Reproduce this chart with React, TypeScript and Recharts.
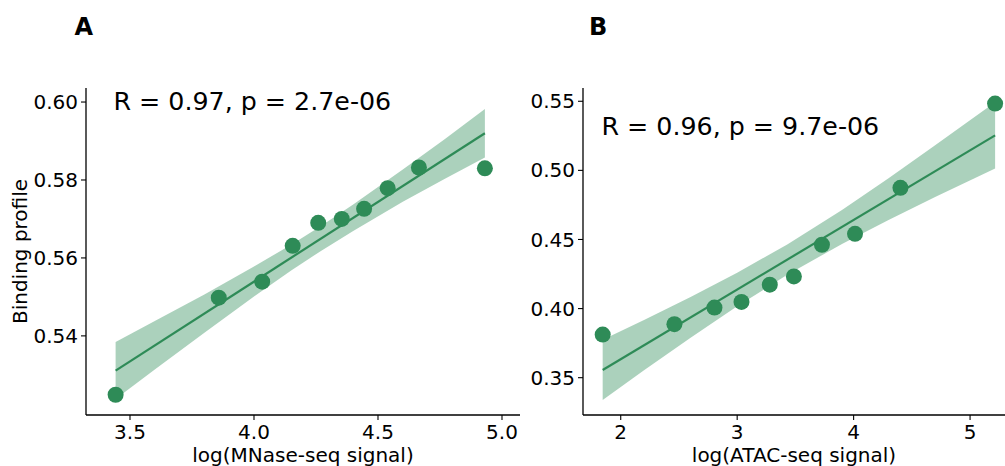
import React from 'react';
import { ComposedChart, Area, Line, Scatter, XAxis, YAxis } from 'recharts';

const GREEN = '#2E8B57';
const FONT = '"DejaVu Sans", sans-serif';

// Panel A: MNase-seq
const MNASE_POINTS = [
  { x: 3.442, y: 0.5249 },
  { x: 3.858, y: 0.5498 },
  { x: 4.033, y: 0.5539 },
  { x: 4.156, y: 0.5631 },
  { x: 4.259, y: 0.569 },
  { x: 4.354, y: 0.57 },
  { x: 4.444, y: 0.5726 },
  { x: 4.539, y: 0.5779 },
  { x: 4.665, y: 0.5832 },
  { x: 4.931, y: 0.583 },
];
const MNASE_FIT = [
  { x: 3.442, y: 0.5311 },
  { x: 4.931, y: 0.592 },
];
const MNASE_BAND = [
  { x: 3.442, lo: 0.5238, hi: 0.5384 },
  { x: 3.6, lo: 0.5314, hi: 0.5438 },
  { x: 3.8, lo: 0.5408, hi: 0.5506 },
  { x: 4.0, lo: 0.5501, hi: 0.5578 },
  { x: 4.15, lo: 0.5568, hi: 0.5634 },
  { x: 4.27, lo: 0.5618, hi: 0.5682 },
  { x: 4.4, lo: 0.5669, hi: 0.5737 },
  { x: 4.6, lo: 0.5744, hi: 0.5827 },
  { x: 4.77, lo: 0.5803, hi: 0.5905 },
  { x: 4.931, lo: 0.5858, hi: 0.5982 },
];
const MNASE_X_TICKS = [3.5, 4.0, 4.5, 5.0];
const MNASE_Y_TICKS = [0.54, 0.56, 0.58, 0.6];

// Panel B: ATAC-seq
const ATAC_POINTS = [
  { x: 1.845, y: 0.3812 },
  { x: 2.461, y: 0.3887 },
  { x: 2.805, y: 0.4007 },
  { x: 3.037, y: 0.4048 },
  { x: 3.28, y: 0.4173 },
  { x: 3.487, y: 0.4233 },
  { x: 3.728, y: 0.4462 },
  { x: 4.012, y: 0.4541 },
  { x: 4.402, y: 0.4874 },
  { x: 5.215, y: 0.5483 },
];
const ATAC_FIT = [
  { x: 1.845, y: 0.3556 },
  { x: 5.215, y: 0.5253 },
];
const ATAC_BAND = [
  { x: 1.845, lo: 0.3338, hi: 0.3774 },
  { x: 2.2, lo: 0.3553, hi: 0.3917 },
  { x: 2.6, lo: 0.3789, hi: 0.4083 },
  { x: 3.0, lo: 0.4017, hi: 0.4259 },
  { x: 3.43, lo: 0.4244, hi: 0.4464 },
  { x: 3.9, lo: 0.4468, hi: 0.4714 },
  { x: 4.3, lo: 0.4641, hi: 0.4943 },
  { x: 4.7, lo: 0.4807, hi: 0.5181 },
  { x: 5.215, lo: 0.5014, hi: 0.5492 },
];
const ATAC_X_TICKS = [2, 3, 4, 5];
const ATAC_Y_TICKS = [0.35, 0.4, 0.45, 0.5, 0.55];

const tickStyle = { fontSize: 20, fill: '#000', fontFamily: FONT };
const titleStyle = { fontSize: 20, fill: '#000', fontFamily: FONT };
const axisLine = { stroke: '#000', strokeWidth: 1.3 };
const tickLine = { stroke: '#000', strokeWidth: 1.1 };

const dot = (p: any) => <circle cx={p.cx} cy={p.cy} r={8} fill={GREEN} />;

type PanelProps = {
  points: { x: number; y: number }[];
  fit: { x: number; y: number }[];
  band: { x: number; lo: number; hi: number }[];
  xDomain: [number, number];
  yDomain: [number, number];
  xTicks: number[];
  yTicks: number[];
  xDigits: number;
  xTitle: string;
  yTitle?: string;
  width: number;
  margin: { top: number; right: number; bottom: number; left: number };
  yAxisWidth: number;
};

function Panel(props: PanelProps) {
  const { points, fit, band, xDomain, yDomain, xTicks, yTicks, xDigits, xTitle, yTitle, width, margin, yAxisWidth } = props;
  return (
    <ComposedChart width={width} height={466} margin={margin}>
      <XAxis
        type="number"
        dataKey="x"
        domain={xDomain}
        allowDataOverflow
        ticks={xTicks}
        tickFormatter={(v: number) => v.toFixed(xDigits)}
        tick={tickStyle}
        axisLine={axisLine}
        tickLine={tickLine}
        tickSize={5}
        tickMargin={5}
        height={50}
        label={{ value: xTitle, position: 'insideBottom', offset: 3, style: titleStyle }}
      />
      <YAxis
        type="number"
        domain={yDomain}
        allowDataOverflow
        ticks={yTicks}
        tickFormatter={(v: number) => v.toFixed(2)}
        tick={tickStyle}
        axisLine={axisLine}
        tickLine={tickLine}
        tickSize={5}
        tickMargin={3}
        width={yAxisWidth}
        label={
          yTitle
            ? { value: yTitle, angle: -90, position: 'insideLeft', offset: 4, style: { ...titleStyle, textAnchor: 'middle' } }
            : undefined
        }
      />
      <Area
        data={band}
        dataKey={(d: any) => [d.lo, d.hi]}
        type="linear"
        stroke="none"
        fill={GREEN}
        fillOpacity={0.4}
        isAnimationActive={false}
      />
      <Line data={fit} dataKey="y" type="linear" stroke={GREEN} strokeWidth={2.2} dot={false} isAnimationActive={false} />
      <Scatter data={points} dataKey="y" shape={dot} isAnimationActive={false} />
    </ComposedChart>
  );
}

export default function App() {
  return (
    <div style={{ position: 'absolute', left: 0, top: 0, width: 1005, height: 466, background: '#fff', fontFamily: FONT }}>
      <div style={{ position: 'absolute', left: 0, top: 0 }}>
        <Panel
          points={MNASE_POINTS}
          fit={MNASE_FIT}
          band={MNASE_BAND}
          xDomain={[3.3226, 5.0726]}
          yDomain={[0.5197, 0.6036]}
          xTicks={MNASE_X_TICKS}
          yTicks={MNASE_Y_TICKS}
          xDigits={1}
          xTitle="log(MNase-seq signal)"
          yTitle="Binding profile"
          width={525}
          margin={{ top: 88, right: 5, bottom: 1, left: 16 }}
          yAxisWidth={70}
        />
      </div>
      <div style={{ position: 'absolute', left: 525, top: 0 }}>
        <Panel
          points={ATAC_POINTS}
          fit={ATAC_FIT}
          band={ATAC_BAND}
          xDomain={[1.676, 5.3]}
          yDomain={[0.323, 0.5596]}
          xTicks={ATAC_X_TICKS}
          yTicks={ATAC_Y_TICKS}
          xDigits={0}
          xTitle="log(ATAC-seq signal)"
          width={480}
          margin={{ top: 88, right: 0, bottom: 1, left: 8 }}
          yAxisWidth={50}
        />
      </div>
      <svg width={1005} height={466} style={{ position: 'absolute', left: 0, top: 0, pointerEvents: 'none' }}>
        <text x={74.5} y={34.5} fontSize={24} fontWeight="bold" fontFamily={FONT} fill="#000">A</text>
        <text x={589} y={34.5} fontSize={24} fontWeight="bold" fontFamily={FONT} fill="#000">B</text>
        <text x={113.5} y={109.5} fontSize={25.3} fontFamily={FONT} fill="#000">R = 0.97, p = 2.7e-06</text>
        <text x={601.5} y={134.5} fontSize={25.3} fontFamily={FONT} fill="#000">R = 0.96, p = 9.7e-06</text>
      </svg>
    </div>
  );
}
